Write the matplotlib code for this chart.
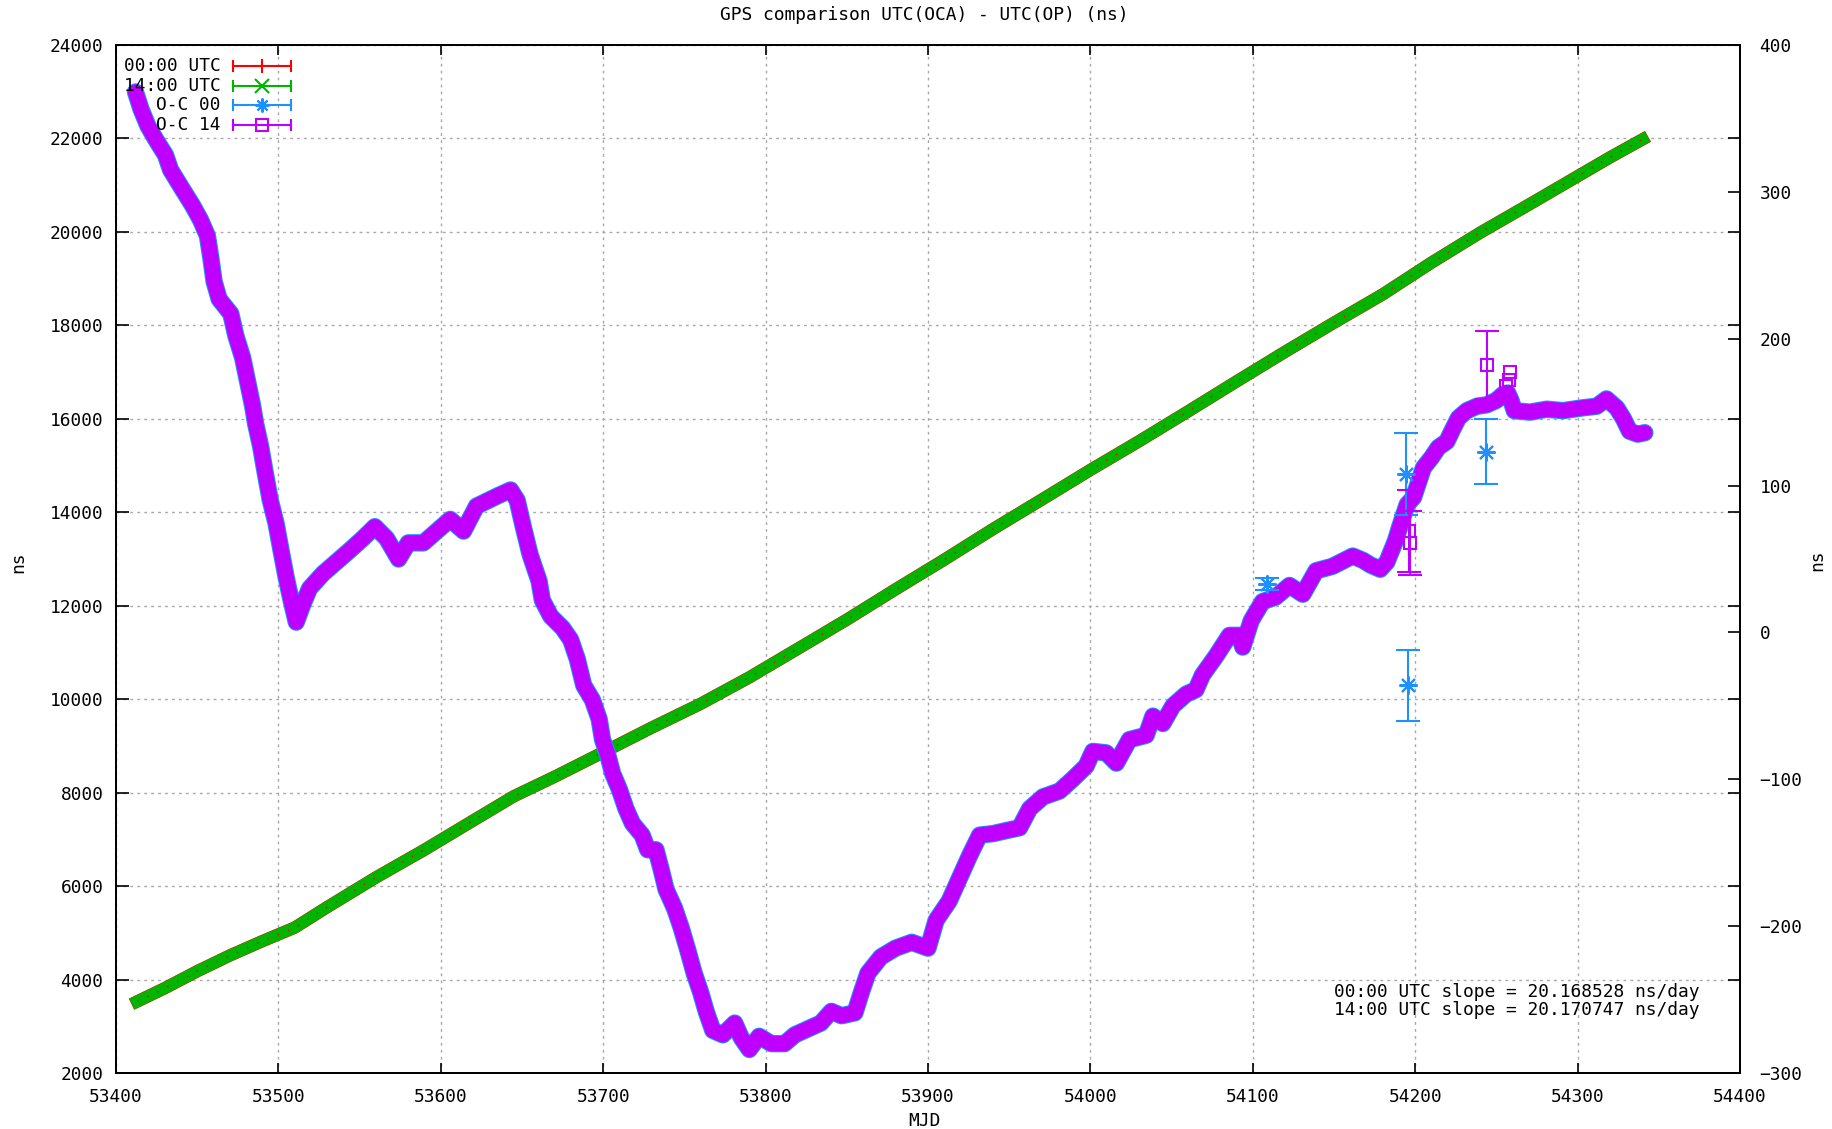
import matplotlib
matplotlib.use("Agg")
import matplotlib.pyplot as plt

plt.rcParams['font.family'] = ['DejaVu Sans Mono']
FS = 12.9

# UTC(OCA) - UTC(OP), left axis (ns)
mjd_utc = [53413, 53430, 53450, 53470, 53490, 53510, 53530, 53560, 53590, 53620,
           53645, 53670, 53700, 53730, 53760, 53790, 53820, 53850, 53880, 53910,
           53940, 53970, 54000, 54030, 54060, 54090, 54120, 54150, 54180, 54210,
           54240, 54270, 54300, 54320, 54340]
utc00 = [3530, 3815, 4178, 4514, 4820, 5111, 5549, 6184, 6778, 7404,
         7923, 8339, 8864, 9393, 9901, 10467, 11083, 11702, 12350, 12985,
         13640, 14270, 14906, 15521, 16156, 16800, 17437, 18057, 18663, 19342,
         19983, 20583, 21191, 21596, 21981]
utc14 = utc00

# O-C residuals, right axis (ns)
mjd_oc = [53412, 53415.5, 53419.6, 53424.3, 53430.5, 53433.6, 53440.8, 53447, 53452, 53456.3,
          53458.4, 53460.4, 53463.5, 53470.7, 53473.8, 53478, 53481, 53484, 53486, 53489,
          53492, 53495, 53498.6, 53501.6, 53504.7, 53507.8, 53511, 53515, 53519.2, 53527.4,
          53535.7, 53544, 53552, 53559.4, 53566.6, 53574, 53580, 53589.3, 53597.5, 53605.8,
          53614, 53622, 53635, 53643, 53647, 53651, 53655, 53660.5, 53662.5, 53667.7,
          53675, 53680, 53684, 53688, 53693.4, 53697.5, 53699.6, 53702.7, 53705.8, 53710,
          53714, 53718, 53724, 53727.4, 53732.5, 53735.6, 53738.7, 53744, 53748, 53752,
          53756, 53760, 53763.4, 53767.5, 53773.7, 53781, 53785, 53790, 53796, 53803.5,
          53811.7, 53818, 53826, 53834, 53840.5, 53846.7, 53855, 53859, 53863, 53871,
          53880, 53890, 53900, 53905, 53913, 53919.5, 53925.6, 53931.8, 53940, 53948,
          53956.4, 53962.6, 53970.8, 53981, 53989, 53997.4, 54001.5, 54009.7, 54016, 54024,
          54034.4, 54038.5, 54044.6, 54050.8, 54059, 54065, 54069, 54077.4, 54085.6, 54091.8,
          54093.8, 54099, 54106, 54114, 54122.6, 54130.8, 54139, 54149, 54161.5, 54168,
          54172.3, 54178.5, 54182.6, 54187.7, 54190.8, 54195, 54199, 54202, 54205, 54210,
          54214.3, 54219.5, 54222.5, 54226.6, 54231.8, 54238, 54244, 54250, 54254, 54257,
          54259, 54261, 54270.7, 54281, 54291, 54303.5, 54311.7, 54317.8, 54324, 54328,
          54332, 54337, 54341.4]
oc = [368, 356, 345, 336, 325, 315, 302, 291, 281, 270,
      255, 239, 227, 217, 202, 187, 171, 155, 142, 127,
      108, 90, 74, 56, 38, 22, 7, 19, 30, 40,
      48, 56, 64, 72, 64, 50, 61, 61, 69, 77,
      69, 86, 93, 97, 90, 71, 53, 35, 22, 11,
      3, -5, -18, -36, -46, -59, -73, -83, -96, -107,
      -120, -130, -138, -148, -148, -161, -175, -188, -201, -216,
      -232, -245, -258, -271, -274, -266, -276, -284, -275, -280,
      -280, -274, -270, -266, -258, -261, -259, -245, -232, -221,
      -215, -211, -215, -196, -183, -167, -152, -138, -137, -135,
      -133, -120, -112, -108, -100, -91, -81, -82, -89, -73,
      -70, -57, -62, -50, -42, -39, -29, -16, -2, -2,
      -10, 8, 21, 24, 32, 26, 42, 45, 52, 49,
      46, 43, 48, 62, 73, 87, 92, 102, 112, 119,
      126, 130, 137, 146, 151, 154, 155, 158, 162, 163,
      158, 151, 150, 152, 151, 153, 154, 159, 153, 146,
      137, 135, 136]

# isolated points with error bars
mjd_out00 = [54109, 54194.3, 54195.8, 54243.6]
oc_out00 = [33, 108, -36, 123]
err_out00 = [4, 28, 24, 22]

mjd_out14 = [54196.2, 54196.8, 54244.4]
oc_out14 = [69, 61, 182]
err_out14 = [28, 22, 23]

# O-C 14 points sitting just above the band
mjd_bump14 = [54256, 54257.5, 54258.5]
oc_bump14 = [168, 172, 177]

RED, GREEN, BLUE, PURPLE = '#ff0000', '#00b400', '#1e90ff', '#c000ff'
STAR = (8, 2, 0)  # gnuplot-like asterisk

W, H = 1832, 1129
fig = plt.figure(figsize=(W / 100, H / 100), dpi=100)
L, R, T, B = 116, 1740, 45, 1073
ax = fig.add_axes([L / W, 1 - B / H, (R - L) / W, (B - T) / H])
ax2 = ax.twinx()

ax.set_xlim(53400, 54400)
ax.set_ylim(2000, 24000)
ax2.set_ylim(-300, 400)
ax.set_xticks(range(53400, 54401, 100))
ax.set_yticks(range(2000, 24001, 2000))
ax2.set_yticks(range(-300, 401, 100))

ax.grid(True, color='#a8a8a8', linestyle=(0, (2, 3)), linewidth=1)
ax.tick_params(axis='x', direction='in', top=True, length=7, width=1.2,
               labelsize=FS, pad=11)
ax.tick_params(axis='y', direction='in', right=True, length=9, width=1.2,
               labelsize=FS, pad=9)
ax2.tick_params(axis='y', direction='in', length=9, width=1.2, labelsize=FS, pad=14)
for a in (ax, ax2):
    for s in a.spines.values():
        s.set_linewidth(1.3)

# UTC series
ax.plot(mjd_utc, utc00, color=RED, lw=9, solid_joinstyle='round')
ax.plot(mjd_utc, utc14, color=GREEN, lw=8.5, solid_joinstyle='round')
ax.plot(mjd_utc, utc00, color=RED, lw=1, linestyle=(0, (1, 7)))

# O-C series
ax2.plot(mjd_oc, oc, color=BLUE, lw=12.5, solid_joinstyle='round', solid_capstyle='round')
ax2.plot(mjd_oc, oc, color=PURPLE, lw=11, solid_joinstyle='round', solid_capstyle='round')
ax2.errorbar(mjd_out00, oc_out00, yerr=err_out00, fmt='none', ecolor=BLUE,
             capsize=8.5, elinewidth=1.5, capthick=1.5)
ax2.plot(mjd_out00, oc_out00, linestyle='none', marker=STAR, color=BLUE, ms=13, mew=1.5)
ax2.errorbar(mjd_out14, oc_out14, yerr=err_out14, fmt='s', color=PURPLE, ms=9,
             mfc='none', mew=1.5, capsize=8.5, elinewidth=1.5, capthick=1.5)
ax2.plot(mjd_bump14, oc_bump14, linestyle='none', marker='s', color=PURPLE, ms=9,
         mfc='none', mew=1.5)


def fx(x):
    return x / W


def fy(y):
    return 1 - y / H


fig.text(fx(924), fy(15), 'GPS comparison UTC(OCA) - UTC(OP) (ns)', ha='center', va='center', fontsize=FS)
fig.text(fx(924), fy(1121), 'MJD', ha='center', va='center', fontsize=FS)
fig.text(fx(18), fy(562), 'ns', ha='center', va='center', rotation=90, fontsize=FS)
fig.text(fx(1817), fy(560), 'ns', ha='center', va='center', rotation=90, fontsize=FS)

fig.text(fx(1700), fy(992), '00:00 UTC slope = 20.168528 ns/day', ha='right', va='center', fontsize=FS)
fig.text(fx(1700), fy(1010), '14:00 UTC slope = 20.170747 ns/day', ha='right', va='center', fontsize=FS)

# key
keys = [('00:00 UTC', RED, '+', 'full'), ('14:00 UTC', GREEN, 'x', 'full'),
        ('O-C 00', BLUE, STAR, 'full'), ('O-C 14', PURPLE, 's', 'none')]
for i, (lab, col, mk, fill) in enumerate(keys):
    y = 66 + i * 19.7
    fig.text(fx(221), fy(y), lab, ha='right', va='center', fontsize=FS)
    fig.add_artist(plt.Line2D([fx(233), fx(291)], [fy(y), fy(y)], transform=fig.transFigure,
                              color=col, lw=1.5))
    for xe in (233, 291):
        fig.add_artist(plt.Line2D([fx(xe), fx(xe)], [fy(y - 5), fy(y + 5)],
                                  transform=fig.transFigure, color=col, lw=1.5))
    fig.add_artist(plt.Line2D([fx(262)], [fy(y)], transform=fig.transFigure, color=col,
                              marker=mk, ms=10 if mk != 's' else 8, mew=1.5,
                              fillstyle=fill, linestyle='none'))

fig.savefig('out.png', dpi=100)
